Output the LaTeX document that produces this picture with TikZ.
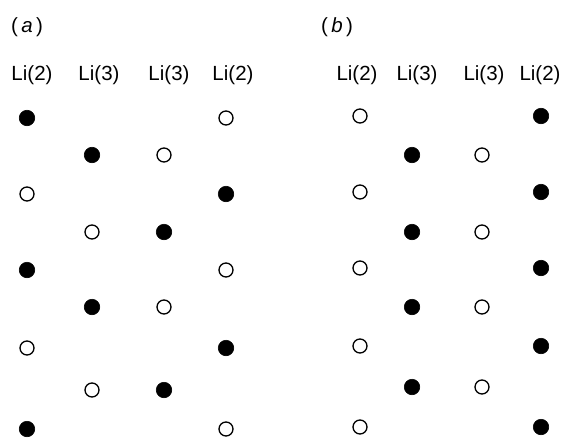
\documentclass[tikz,border=0pt]{standalone}
\usepackage{fontspec}
\setmainfont{Liberation Sans}
\begin{document}
\begin{tikzpicture}[x=1pt,y=-1pt,
  lbl/.style={font=\fontsize{20.5}{24}\selectfont, inner sep=0pt, anchor=center},
  full/.style={circle, fill=black, draw=black, line width=0.6pt, minimum size=15.5pt, inner sep=0pt},
  hollow/.style={circle, fill=white, draw=black, line width=1.3pt, minimum size=14pt, inner sep=0pt}]
\useasboundingbox (0,0) rectangle (564,439);
% panel labels
\node[lbl] (pa) at (27,27) {(\,\textit{a}\,)};
\node[lbl] (pb) at (337,27) {(\,\textit{b}\,)};
% column labels (a)
\node[lbl] (a1) at (32,75) {Li(2)};
\node[lbl] (a2) at (99,75) {Li(3)};
\node[lbl] (a3) at (169,75) {Li(3)};
\node[lbl] (a4) at (233,75) {Li(2)};
% column labels (b)
\node[lbl] (b1) at (357,75) {Li(2)};
\node[lbl] (b2) at (417,75) {Li(3)};
\node[lbl] (b3) at (484,75) {Li(3)};
\node[lbl] (b4) at (540,75) {Li(2)};
% panel (a) atoms
\node[full]   (a11) at (27,118) {};
\node[hollow] (a41) at (226,118) {};
\node[full]   (a22) at (92,155) {};
\node[hollow] (a32) at (164,155) {};
\node[hollow] (a13) at (27,194) {};
\node[full]   (a43) at (226,194) {};
\node[hollow] (a24) at (92,232) {};
\node[full]   (a34) at (164,232) {};
\node[full]   (a15) at (27,270) {};
\node[hollow] (a45) at (226,270) {};
\node[full]   (a26) at (92,307) {};
\node[hollow] (a36) at (164,307) {};
\node[hollow] (a17) at (27,348) {};
\node[full]   (a47) at (226,348) {};
\node[hollow] (a28) at (92,390) {};
\node[full]   (a38) at (164,390) {};
\node[full]   (a19) at (27,429) {};
\node[hollow] (a49) at (226,429) {};
% panel (b) atoms
\node[hollow] (b11) at (360,116) {};
\node[full]   (b41) at (541,116) {};
\node[full]   (b22) at (412,155) {};
\node[hollow] (b32) at (482,155) {};
\node[hollow] (b13) at (360,192) {};
\node[full]   (b43) at (541,192) {};
\node[full]   (b24) at (412,232) {};
\node[hollow] (b34) at (482,232) {};
\node[hollow] (b15) at (360,268) {};
\node[full]   (b45) at (541,268) {};
\node[full]   (b26) at (412,307) {};
\node[hollow] (b36) at (482,307) {};
\node[hollow] (b17) at (360,346) {};
\node[full]   (b47) at (541,346) {};
\node[full]   (b28) at (412,387) {};
\node[hollow] (b38) at (482,387) {};
\node[hollow] (b19) at (360,427) {};
\node[full]   (b49) at (541,427) {};
\end{tikzpicture}
\end{document}
